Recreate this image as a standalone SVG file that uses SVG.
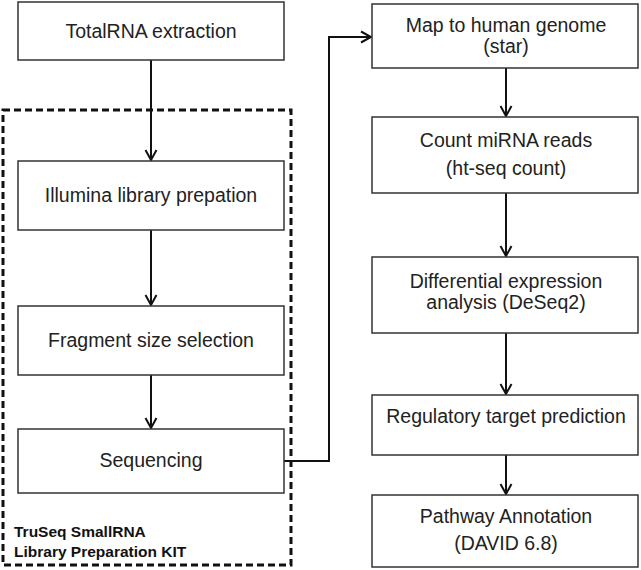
<svg xmlns="http://www.w3.org/2000/svg" width="641" height="570" viewBox="0 0 641 570">
<defs>
<style>
.box{fill:#fff;stroke:#333;stroke-width:1.5}
.t{font-family:"Liberation Sans",Arial,sans-serif;font-size:19.5px;fill:#222;text-anchor:middle}
.b{font-family:"Liberation Sans",Arial,sans-serif;font-size:15.5px;font-weight:bold;fill:#111}
.c{fill:none;stroke:#111;stroke-width:2}
</style>
<marker id="ah" markerUnits="userSpaceOnUse" viewBox="-12 -7 14 14" refX="0" refY="0" markerWidth="14" markerHeight="14" orient="auto">
<path d="M-10,-5.5 L0,0 L-10,5.5" fill="none" stroke="#111" stroke-width="2"/>
</marker>
</defs>
<rect width="641" height="570" fill="#fff"/>
<g id="kit">
<rect x="3" y="110" width="288" height="455" fill="none" stroke="#111" stroke-width="3" stroke-dasharray="7,4"/>
<text class="b" x="14" y="537">TruSeq SmallRNA</text>
<text class="b" x="14" y="557">Library Preparation KIT</text>
</g>
<g id="connectors">
<path class="c" d="M151,60 V160" marker-end="url(#ah)"/>
<path class="c" d="M151,230 V305" marker-end="url(#ah)"/>
<path class="c" d="M151,375 V428" marker-end="url(#ah)"/>
<path class="c" d="M284,461 H329 V37 H371" marker-end="url(#ah)"/>
<path class="c" d="M506,68 V116" marker-end="url(#ah)"/>
<path class="c" d="M506,193 V256" marker-end="url(#ah)"/>
<path class="c" d="M506,333 V394" marker-end="url(#ah)"/>
<path class="c" d="M506,455 V494" marker-end="url(#ah)"/>
</g>
<g id="n1"><rect class="box" x="18" y="2" width="266" height="58"/><text class="t" x="151" y="38">TotalRNA extraction</text></g>
<g id="n2"><rect class="box" x="18" y="161" width="266" height="69"/><text class="t" x="151" y="202">Illumina library prepation</text></g>
<g id="n3"><rect class="box" x="18" y="306" width="266" height="69"/><text class="t" x="151" y="347">Fragment size selection</text></g>
<g id="n4"><rect class="box" x="18" y="429" width="266" height="64"/><text class="t" x="151" y="467">Sequencing</text></g>
<g id="n5"><rect class="box" x="372" y="4" width="266" height="64"/><text class="t" x="506" y="32">Map to human genome</text><text class="t" x="506" y="53">(star)</text></g>
<g id="n6"><rect class="box" x="372" y="117" width="266" height="76"/><text class="t" x="506" y="147">Count miRNA reads</text><text class="t" x="506" y="175">(ht-seq count)</text></g>
<g id="n7"><rect class="box" x="372" y="257" width="266" height="76"/><text class="t" x="506" y="288">Differential expression</text><text class="t" x="506" y="309">analysis (DeSeq2)</text></g>
<g id="n8"><rect class="box" x="372" y="395" width="266" height="60"/><text class="t" x="506" y="423">Regulatory target prediction</text></g>
<g id="n9"><rect class="box" x="372" y="495" width="266" height="72"/><text class="t" x="506" y="523">Pathway Annotation</text><text class="t" x="506" y="550">(DAVID 6.8)</text></g>
</svg>
